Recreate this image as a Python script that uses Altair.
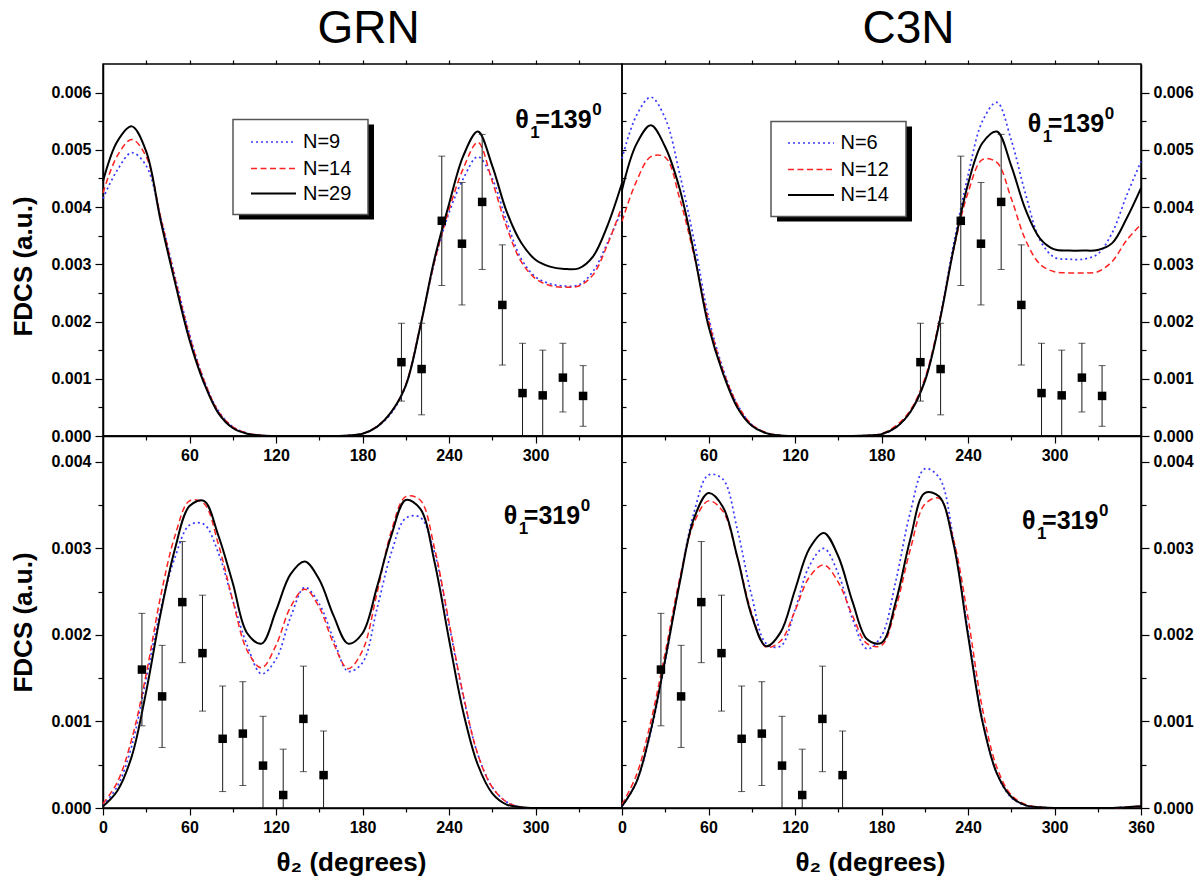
import altair as alt
import pandas as pd

FONT = "Liberation Sans"
W, H = 519, 372

# theta_2 grid (degrees)
DEG = [0, 10, 20, 30, 40, 50, 60, 70, 80, 90, 100, 110, 120, 130, 140, 150, 160, 170, 180,
       190, 200, 210, 220, 230, 240, 250, 260, 270, 280, 290, 300, 310, 320, 330, 340, 350, 360]

# FDCS values in units of 1e-3 a.u.
# GRN, theta1 = 139
GRN_139_N9 = [4.15, 4.65, 4.95, 4.72, 3.82, 2.78, 1.78, 0.98, 0.44, 0.16, 0.05,
              0.01, 0.0, 0.0, 0.0, 0.0, 0.0,
              0.01, 0.04, 0.16, 0.40, 0.88, 1.90, 3.05, 3.90, 4.50, 4.88, 4.50, 3.75, 3.10,
              2.78, 2.66, 2.62, 2.64, 2.88, 3.38, 3.95]
GRN_139_N14 = [4.25, 4.90, 5.18, 4.88, 3.82, 2.75, 1.75, 0.98, 0.43, 0.16, 0.05,
               0.01, 0.0, 0.0, 0.0, 0.0, 0.0,
               0.01, 0.04, 0.17, 0.42, 0.90, 1.92, 3.05, 3.95, 4.68, 5.13, 4.45, 3.65, 3.05,
               2.75, 2.63, 2.60, 2.62, 2.82, 3.35, 4.02]
GRN_139_N29 = [4.45, 5.15, 5.41, 4.97, 3.76, 2.68, 1.68, 0.93, 0.40, 0.14, 0.04,
               0.01, 0.0, 0.0, 0.0, 0.0, 0.0,
               0.01, 0.04, 0.16, 0.42, 0.88, 1.90, 3.10, 4.05, 4.90, 5.32, 4.72, 3.92, 3.38,
               3.08, 2.96, 2.92, 2.93, 3.14, 3.68, 4.42]

# C3N, theta1 = 139
C3N_139_N6 = [4.85, 5.60, 5.92, 5.55, 4.58, 3.42, 2.08, 1.18, 0.55, 0.20, 0.05,
              0.01, 0.0, 0.0, 0.0, 0.0, 0.0,
              0.01, 0.03, 0.15, 0.42, 0.97, 2.00, 3.35, 4.55, 5.50, 5.83, 5.17, 4.22, 3.42,
              3.12, 3.09, 3.09, 3.18, 3.55, 4.20, 4.80]
C3N_139_N12 = [3.75, 4.45, 4.88, 4.87, 4.15, 3.15, 2.02, 1.15, 0.55, 0.20, 0.06,
               0.01, 0.0, 0.0, 0.0, 0.0, 0.0,
               0.01, 0.04, 0.18, 0.45, 1.00, 2.00, 3.25, 4.25, 4.83, 4.78, 4.15, 3.42, 3.00,
               2.87, 2.85, 2.85, 2.87, 3.05, 3.42, 3.70]
C3N_139_N14 = [4.30, 5.10, 5.43, 5.05, 4.32, 3.20, 1.92, 1.10, 0.50, 0.18, 0.05,
               0.01, 0.0, 0.0, 0.0, 0.0, 0.0,
               0.01, 0.03, 0.15, 0.42, 0.95, 1.96, 3.27, 4.40, 5.12, 5.32, 4.72, 3.95, 3.45,
               3.26, 3.24, 3.24, 3.25, 3.37, 3.80, 4.33]

# GRN, theta1 = 319
GRN_319_N9 = [0.03, 0.25, 0.72, 1.50, 2.30, 2.90, 3.27, 3.28, 2.95, 2.40,
              1.88, 1.55, 1.72, 2.20, 2.55, 2.36, 1.95, 1.58, 1.68, 2.30,
              2.95, 3.35, 3.36, 2.95, 2.12, 1.28, 0.62, 0.24, 0.07, 0.01,
              0.0, 0.0, 0.0, 0.0, 0.0, 0.0, 0.0]
GRN_319_N14 = [0.05, 0.30, 0.80, 1.55, 2.45, 3.15, 3.55, 3.52, 3.05, 2.40,
               1.82, 1.62, 1.88, 2.32, 2.53, 2.32, 1.90, 1.61, 1.82, 2.48,
               3.20, 3.60, 3.56, 3.00, 2.15, 1.30, 0.62, 0.24, 0.07, 0.01,
               0.0, 0.0, 0.0, 0.0, 0.0, 0.0, 0.0]
GRN_319_N29 = [0.02, 0.20, 0.60, 1.35, 2.25, 3.00, 3.49, 3.55, 3.15, 2.60,
               2.02, 1.90, 2.28, 2.70, 2.85, 2.64, 2.22, 1.90, 2.02, 2.55,
               3.15, 3.56, 3.46, 2.84, 1.95, 1.10, 0.50, 0.17, 0.04, 0.01,
               0.0, 0.0, 0.0, 0.0, 0.0, 0.0, 0.0]

# C3N, theta1 = 319
C3N_319_N6 = [0.02, 0.30, 0.88, 1.70, 2.62, 3.42, 3.85, 3.80, 3.22, 2.45,
              1.90, 1.87, 2.29, 2.80, 3.00, 2.71, 2.18, 1.84, 1.99, 2.63,
              3.42, 3.92, 3.82, 3.10, 2.05, 1.02, 0.40, 0.12, 0.03, 0.01,
              0.0, 0.0, 0.0, 0.0, 0.0, 0.01, 0.02]
C3N_319_N12 = [0.04, 0.38, 1.00, 1.80, 2.65, 3.30, 3.55, 3.43, 2.90, 2.25,
               1.86, 1.93, 2.28, 2.67, 2.81, 2.61, 2.22, 1.90, 1.88, 2.32,
               2.99, 3.51, 3.58, 3.10, 2.20, 1.15, 0.47, 0.15, 0.04, 0.01,
               0.0, 0.0, 0.0, 0.0, 0.0, 0.01, 0.02]
C3N_319_N14 = [0.02, 0.30, 0.90, 1.72, 2.60, 3.35, 3.64, 3.48, 2.90, 2.22,
               1.87, 2.03, 2.52, 3.00, 3.18, 2.91, 2.38, 1.95, 1.91, 2.39,
               3.11, 3.64, 3.60, 3.05, 2.00, 1.00, 0.40, 0.13, 0.03, 0.01,
               0.0, 0.0, 0.0, 0.0, 0.0, 0.01, 0.02]

# experiment (units 1e-3), symmetric errors
EXP_139_DEG = [207, 221, 235, 249, 263, 277, 291, 305, 319, 333]
EXP_139_VAL = [1.29, 1.17, 3.76, 3.36, 4.09, 2.29, 0.75, 0.71, 1.02, 0.70]
EXP_139_ERR = [0.68, 0.80, 1.13, 1.07, 1.18, 1.05, 0.87, 0.79, 0.60, 0.53]
EXP_319_DEG = [27, 41, 55, 69, 83, 97, 111, 125, 139, 153]
EXP_319_VAL = [1.60, 1.29, 2.38, 1.79, 0.80, 0.86, 0.49, 0.15, 1.03, 0.38]
EXP_319_ERR = [0.65, 0.59, 0.70, 0.67, 0.61, 0.60, 0.57, 0.53, 0.61, 0.51]

GRN_NAMES = ["N=9", "N=14", "N=29"]
C3N_NAMES = ["N=6", "N=12", "N=14"]

X_LABELS_TOP = [60, 120, 180, 240, 300]
X_LABELS_BL = [0, 60, 120, 180, 240, 300]
X_LABELS_BR = [0, 60, 120, 180, 240, 300, 360]
X_MINOR = [30, 90, 150, 210, 270, 330]
X_ALL = [30, 60, 90, 120, 150, 180, 210, 240, 270, 300, 330]
Y_TOP_MAJOR = [0.0, 0.001, 0.002, 0.003, 0.004, 0.005, 0.006]
Y_TOP_MINOR = [0.0005, 0.0015, 0.0025, 0.0035, 0.0045, 0.0055]
Y_BOT_MAJOR = [0.0, 0.001, 0.002, 0.003, 0.004]
Y_BOT_MINOR = [0.0005, 0.0015, 0.0025, 0.0035]

COLORS = ["#3838ff", "#ff2222", "#000000"]
DASHES = [[2, 3], [6, 3.5], None]
WIDTHS = [1.7, 1.5, 2.0]

YTITLE = "FDCS (a.u.)"
XTITLE = "θ₂ (degrees)"


def style(i):
    kw = dict(color=COLORS[i], strokeWidth=WIDTHS[i])
    if DASHES[i] is not None:
        kw["strokeDash"] = DASHES[i]
    return kw


def curve_layer(vals, i, xs, ys, xaxis, yaxis):
    df = pd.DataFrame({"deg": DEG, "v": [v * 1e-3 for v in vals]})
    return alt.Chart(df).mark_line(interpolate="catmull-rom", **style(i)).encode(
        x=alt.X("deg:Q", scale=xs, axis=xaxis),
        y=alt.Y("v:Q", scale=ys, axis=yaxis),
    )


def exp_layers(degs, vals, errs, xs, ys):
    df = pd.DataFrame({
        "deg": degs,
        "v": [v * 1e-3 for v in vals],
        "lo": [(v - e) * 1e-3 for v, e in zip(vals, errs)],
        "hi": [(v + e) * 1e-3 for v, e in zip(vals, errs)],
    })
    base = alt.Chart(df).encode(x=alt.X("deg:Q", scale=xs, axis=None))
    bars = base.mark_rule(color="#1a1a1a", strokeWidth=1, clip=True).encode(
        y=alt.Y("lo:Q", scale=ys, axis=None), y2="hi:Q")
    cap_hi = base.mark_tick(color="#1a1a1a", orient="horizontal", size=7, thickness=1, clip=True).encode(
        y=alt.Y("hi:Q", scale=ys, axis=None))
    cap_lo = base.mark_tick(color="#1a1a1a", orient="horizontal", size=7, thickness=1, clip=True).encode(
        y=alt.Y("lo:Q", scale=ys, axis=None))
    pts = base.mark_square(size=72, color="black", opacity=1).encode(
        y=alt.Y("v:Q", scale=ys, axis=None))
    return [bars, cap_hi, cap_lo, pts]


def annot_layers(anchor, num, xs, ys):
    df = pd.DataFrame({"deg": [anchor[0]], "v": [anchor[1]]})
    base = alt.Chart(df).encode(x=alt.X("deg:Q", scale=xs, axis=None),
                                y=alt.Y("v:Q", scale=ys, axis=None))
    common = dict(align="left", baseline="alphabetic", fontWeight="bold", color="black")
    return [
        base.mark_text(text="θ", fontSize=25, dx=0, **common),
        base.mark_text(text="1", fontSize=17, dx=15, dy=10, **common),
        base.mark_text(text="=" + num, fontSize=25, dx=20, **common),
        base.mark_text(text="0", fontSize=17, dx=77, dy=-13, **common),
    ]


def legend_layers(names, box, lx, tx, rows):
    one = pd.DataFrame({"k": [0]})
    x0, y0, x1, y1 = box
    shadow = alt.Chart(one).mark_rect(color="black").encode(
        x=alt.value(x0 + 6), x2=alt.value(x1 + 6), y=alt.value(y0 + 5), y2=alt.value(y1 + 5))
    frame = alt.Chart(one).mark_rect(fill="white", stroke="#555555", strokeWidth=1.5).encode(
        x=alt.value(x0), x2=alt.value(x1), y=alt.value(y0), y2=alt.value(y1))
    ldf = pd.DataFrame({"label": names})
    out = [shadow, frame]
    for i, name in enumerate(names):
        sel = alt.Chart(ldf).transform_filter(alt.datum.label == name)
        out.append(sel.mark_rule(**style(i)).encode(
            x=alt.value(lx[0]), x2=alt.value(lx[1]), y=alt.value(rows[i])))
        out.append(sel.mark_text(align="left", baseline="middle", fontSize=20, color="black").encode(
            x=alt.value(tx), y=alt.value(rows[i]), text="label:N"))
    return out


def panel(pos, series, names, exp, ydom, ymaj, ymin, anchor, num, legend=None, title=None, tdx=0):
    top = pos in ("TL", "TR")
    left = pos in ("TL", "BL")
    xs = alt.Scale(domain=[0, 360], nice=False, zero=False)
    ys = alt.Scale(domain=ydom, nice=False, zero=False)
    yorient = "left" if left else "right"
    xlabels = X_LABELS_TOP if top else (X_LABELS_BL if left else X_LABELS_BR)

    xmaj_kw = dict(orient="bottom", values=xlabels, tickSize=7, labelPadding=4,
                   labelFlush=False, domain=True)
    if top:
        xmaj_kw["title"] = None
    else:
        xmaj_kw.update(title=XTITLE, titlePadding=14, titleX=248)
    x_major = alt.Axis(**xmaj_kw)

    ymaj_kw = dict(orient=yorient, values=ymaj, format=".3f", tickSize=8, labelPadding=4, domain=True)
    if left:
        ymaj_kw.update(title=YTITLE, titlePadding=14, titleY=(202 if top else 186))
    else:
        ymaj_kw["title"] = None
    y_major = alt.Axis(**ymaj_kw)

    x_minor = alt.Axis(orient="bottom", values=X_MINOR, tickSize=4, labels=False, domain=False, title=None)
    y_minor = alt.Axis(orient=yorient, values=ymin, tickSize=5, labels=False, domain=False, title=None)
    x_top = alt.Axis(orient="top", values=X_ALL, tickSize=4, labels=False, domain=False, title=None) if top else None
    y_mirror = alt.Axis(orient="right", values=sorted(ymaj + ymin), tickSize=4, labels=False,
                        domain=False, title=None) if left else None

    layers = [
        curve_layer(series[0], 0, xs, ys, x_top, y_mirror),
        curve_layer(series[1], 1, xs, ys, x_minor, y_minor),
        curve_layer(series[2], 2, xs, ys, x_major, y_major),
    ]
    layers += exp_layers(exp[0], exp[1], exp[2], xs, ys)
    layers += annot_layers(anchor, num, xs, ys)
    if legend is not None:
        layers += legend_layers(names, *legend)
    ch = alt.layer(*layers).resolve_axis(x="independent", y="independent").properties(width=W, height=H)
    if title is not None:
        ch = ch.properties(title=alt.TitleParams(text=title, anchor="middle", fontSize=46,
                                                 fontWeight="normal", dx=tdx, offset=-30,
                                                 baseline="alphabetic", color="black"))
    return ch


EXP139 = (EXP_139_DEG, EXP_139_VAL, EXP_139_ERR)
EXP319 = (EXP_319_DEG, EXP_319_VAL, EXP_319_ERR)

TL = panel("TL", [GRN_139_N9, GRN_139_N14, GRN_139_N29], GRN_NAMES, EXP139, [0, 0.0065],
           Y_TOP_MAJOR, Y_TOP_MINOR, (286, 0.00539), "139",
           legend=((130, 55.5, 265, 150.5), (148, 193), 200, (78, 104.5, 129.5)),
           title="GRN", tdx=6)
TR = panel("TR", [C3N_139_N6, C3N_139_N12, C3N_139_N14], C3N_NAMES, EXP139, [0, 0.0065],
           Y_TOP_MAJOR, Y_TOP_MINOR, (281.5, 0.00532), "139",
           legend=((149, 57.5, 284, 152.5), (166, 212), 218.5, (79, 105.5, 131)),
           title="C3N", tdx=27)
BL = panel("BL", [GRN_319_N9, GRN_319_N14, GRN_319_N29], GRN_NAMES, EXP319, [0, 0.0043],
           Y_BOT_MAJOR, Y_BOT_MINOR, (278, 0.00328), "319")
BR = panel("BR", [C3N_319_N6, C3N_319_N12, C3N_319_N14], C3N_NAMES, EXP319, [0, 0.0043],
           Y_BOT_MAJOR, Y_BOT_MINOR, (277.5, 0.00323), "319")

chart = alt.concat(TL, TR, BL, BR, columns=2, spacing=0, bounds="flush").properties(
    padding={"left": 2, "top": -3, "right": 0, "bottom": 0}
).configure(font=FONT).configure_view(
    stroke="black", strokeWidth=1.5
).configure_axis(
    grid=False, domainColor="black", domainWidth=1.5, tickColor="black", tickWidth=1.2,
    labelColor="black", labelFont=FONT, labelFontSize=16, labelFontWeight="bold",
    titleFont=FONT, titleFontSize=26, titleFontWeight="bold", titleColor="black",
)

chart.save("out.html", embed_options={"renderer": "svg", "actions": False})
